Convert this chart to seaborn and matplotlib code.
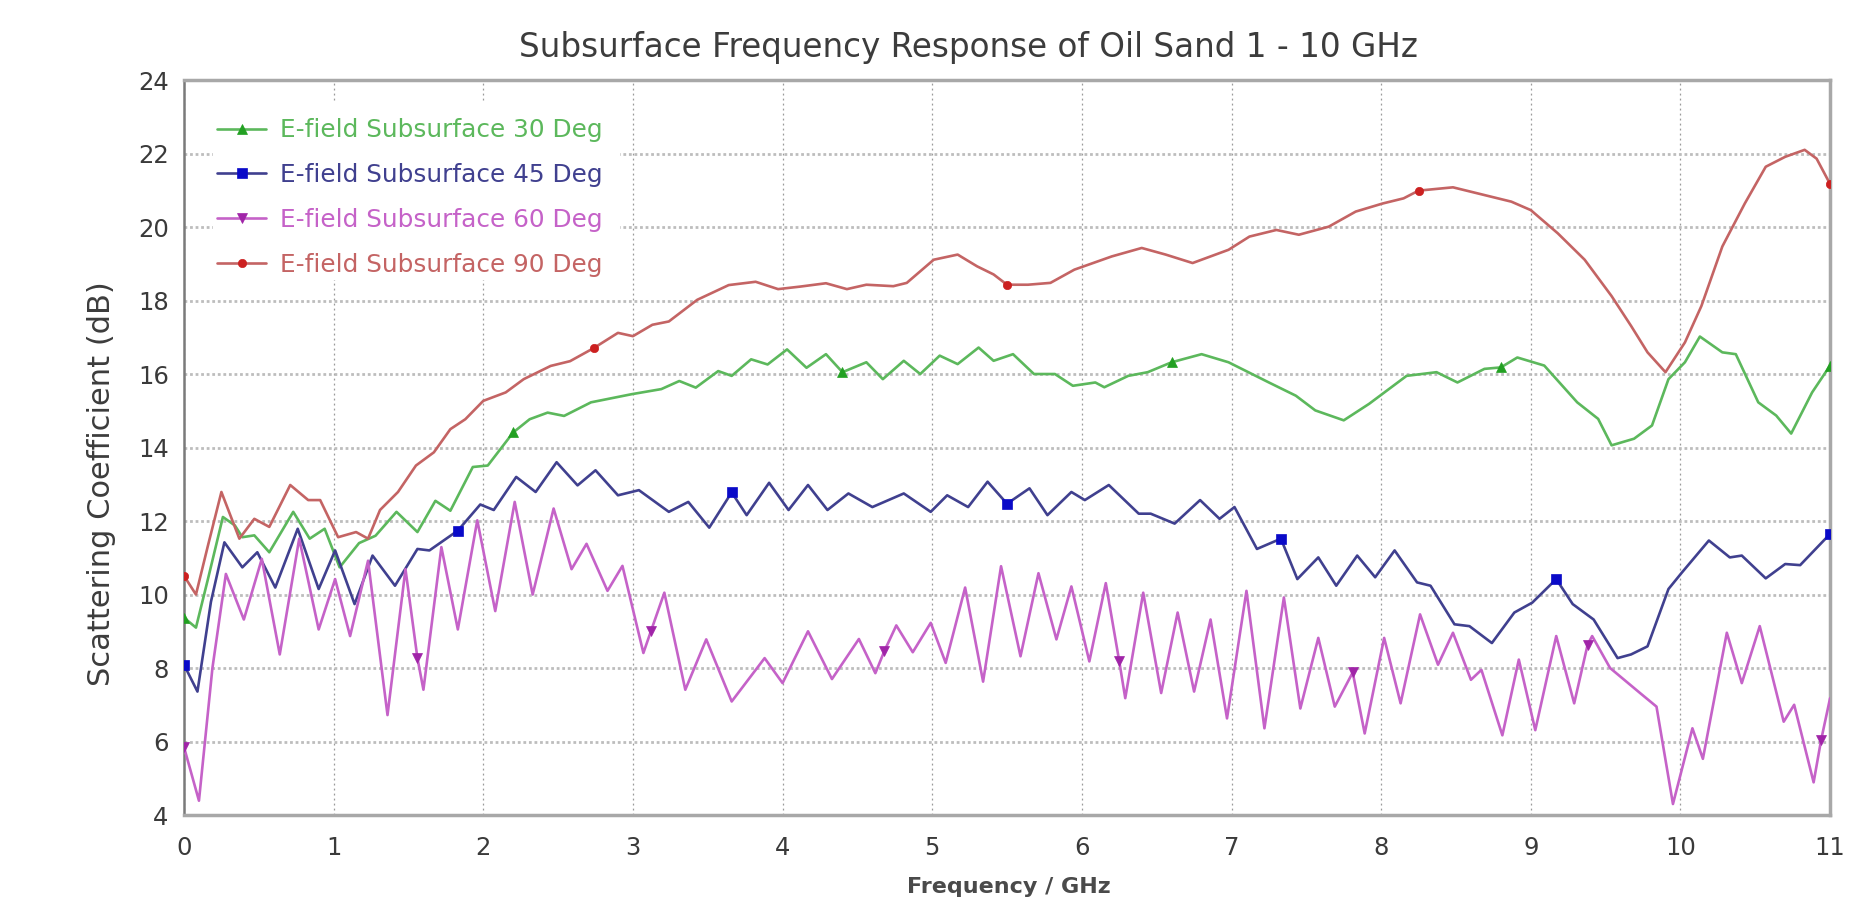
import numpy as np
import matplotlib
matplotlib.use("Agg")
import matplotlib.pyplot as plt
from matplotlib.patches import Rectangle
import seaborn as sns

# ---------------- data ----------------
freq_30 = [0, 0.08, 0.16, 0.26, 0.34, 0.39, 0.47, 0.57, 0.73, 0.84,
           0.94, 1.04, 1.17, 1.28, 1.42, 1.56, 1.68, 1.78, 1.93, 2.03,
           2.20, 2.31, 2.43, 2.54, 2.72, 2.99, 3.19, 3.31, 3.42, 3.57,
           3.66, 3.79, 3.90, 4.03, 4.16, 4.29, 4.40, 4.56, 4.67, 4.81,
           4.92, 5.05, 5.17, 5.31, 5.41, 5.54, 5.68, 5.82, 5.94, 6.09,
           6.15, 6.31, 6.44, 6.60, 6.80, 6.98, 7.25, 7.43, 7.56, 7.75,
           7.92, 8.17, 8.37, 8.51, 8.69, 8.80, 8.91, 9.09, 9.31, 9.45,
           9.54, 9.69, 9.81, 9.92, 10.03, 10.13, 10.28, 10.37, 10.52, 10.64,
           10.74, 10.88, 11.00]
scat_30 = [9.37, 9.10, 10.42, 12.11, 11.88, 11.56, 11.61, 11.15, 12.25, 11.52,
           11.79, 10.74, 11.40, 11.60, 12.25, 11.70, 12.55, 12.28, 13.47, 13.51,
           14.41, 14.77, 14.95, 14.86, 15.23, 15.45, 15.59, 15.81, 15.63, 16.08,
           15.95, 16.40, 16.26, 16.67, 16.17, 16.54, 16.05, 16.32, 15.86, 16.36,
           16.00, 16.50, 16.27, 16.72, 16.36, 16.54, 16.00, 16.00, 15.68, 15.77,
           15.64, 15.95, 16.05, 16.32, 16.54, 16.32, 15.77, 15.41, 15.01, 14.74,
           15.19, 15.95, 16.05, 15.77, 16.14, 16.18, 16.45, 16.23, 15.23, 14.78,
           14.06, 14.24, 14.60, 15.86, 16.32, 17.02, 16.59, 16.54, 15.23, 14.87,
           14.38, 15.50, 16.23]
marks_30 = [0, 2.20, 4.40, 6.60, 8.80, 11.00]

freq_45 = [0, 0.09, 0.18, 0.27, 0.39, 0.49, 0.61, 0.76, 0.90, 1.01,
           1.14, 1.26, 1.41, 1.56, 1.64, 1.83, 1.98, 2.07, 2.22, 2.35,
           2.49, 2.63, 2.75, 2.90, 3.04, 3.24, 3.37, 3.51, 3.66, 3.76,
           3.91, 4.04, 4.17, 4.30, 4.44, 4.60, 4.81, 4.99, 5.10, 5.24,
           5.37, 5.50, 5.65, 5.77, 5.93, 6.02, 6.18, 6.38, 6.46, 6.62,
           6.79, 6.92, 7.02, 7.17, 7.33, 7.44, 7.58, 7.70, 7.84, 7.96,
           8.09, 8.24, 8.33, 8.49, 8.59, 8.74, 8.89, 9.01, 9.17, 9.28,
           9.42, 9.58, 9.67, 9.78, 9.92, 10.01, 10.19, 10.33, 10.41, 10.57,
           10.70, 10.80, 11.00]
scat_45 = [8.09, 7.36, 9.80, 11.42, 10.74, 11.15, 10.19, 11.79, 10.15, 11.20,
           9.74, 11.06, 10.24, 11.24, 11.20, 11.74, 12.45, 12.30, 13.20, 12.79,
           13.60, 12.97, 13.38, 12.70, 12.84, 12.25, 12.52, 11.82, 12.78, 12.16,
           13.04, 12.30, 12.98, 12.30, 12.75, 12.38, 12.75, 12.25, 12.70, 12.38,
           13.07, 12.47, 12.89, 12.16, 12.79, 12.57, 12.98, 12.20, 12.20, 11.93,
           12.57, 12.06, 12.38, 11.24, 11.52, 10.42, 11.01, 10.24, 11.06, 10.47,
           11.20, 10.33, 10.24, 9.19, 9.14, 8.68, 9.51, 9.78, 10.42, 9.74,
           9.32, 8.27, 8.37, 8.59, 10.15, 10.60, 11.47, 11.01, 11.06, 10.44,
           10.83, 10.80, 11.65]
marks_45 = [0, 1.83, 3.66, 5.50, 7.33, 9.17, 11.00]

freq_60 = [0, 0.10, 0.19, 0.28, 0.40, 0.52, 0.64, 0.77, 0.90, 1.01,
           1.11, 1.23, 1.36, 1.48, 1.56, 1.60, 1.72, 1.83, 1.96, 2.08,
           2.21, 2.33, 2.47, 2.59, 2.69, 2.83, 2.93, 3.07, 3.12, 3.21,
           3.35, 3.49, 3.66, 3.88, 4.00, 4.17, 4.33, 4.51, 4.62, 4.68,
           4.76, 4.87, 4.99, 5.09, 5.22, 5.34, 5.46, 5.59, 5.71, 5.83,
           5.93, 6.05, 6.16, 6.25, 6.29, 6.41, 6.53, 6.64, 6.75, 6.86,
           6.97, 7.10, 7.22, 7.35, 7.46, 7.58, 7.69, 7.81, 7.89, 8.02,
           8.13, 8.26, 8.38, 8.48, 8.60, 8.67, 8.81, 8.92, 9.03, 9.17,
           9.29, 9.38, 9.41, 9.53, 9.73, 9.84, 9.95, 10.08, 10.15, 10.31,
           10.41, 10.53, 10.69, 10.76, 10.89, 10.94, 11.00]
scat_60 = [5.85, 4.39, 8.00, 10.56, 9.32, 10.97, 8.37, 11.52, 9.05, 10.42,
           8.87, 10.92, 6.72, 10.69, 8.27, 7.41, 11.29, 9.05, 12.02, 9.55,
           12.52, 10.00, 12.34, 10.69, 11.38, 10.10, 10.78, 8.41, 9.00, 10.05,
           7.41, 8.78, 7.09, 8.27, 7.59, 9.00, 7.70, 8.79, 7.86, 8.46,
           9.16, 8.43, 9.23, 8.14, 10.19, 7.63, 10.77, 8.32, 10.58, 8.78,
           10.22, 8.18, 10.31, 8.18, 7.18, 10.05, 7.32, 9.51, 7.36, 9.32,
           6.63, 10.10, 6.36, 9.92, 6.90, 8.82, 6.95, 7.88, 6.22, 8.82,
           7.04, 9.46, 8.09, 8.96, 7.68, 7.95, 6.17, 8.23, 6.31, 8.87,
           7.04, 8.64, 8.87, 8.00, 7.32, 6.95, 4.30, 6.36, 5.53, 8.96,
           7.59, 9.14, 6.54, 7.00, 4.89, 6.04, 7.18]
marks_60 = [0, 1.56, 3.12, 4.68, 6.25, 7.81, 9.38, 10.94]

freq_90 = [0, 0.08, 0.16, 0.25, 0.37, 0.47, 0.57, 0.71, 0.83, 0.91,
           1.03, 1.15, 1.23, 1.31, 1.43, 1.55, 1.67, 1.78, 1.88, 2.00,
           2.15, 2.27, 2.45, 2.58, 2.74, 2.90, 3.00, 3.13, 3.24, 3.43,
           3.64, 3.82, 3.97, 4.12, 4.29, 4.43, 4.56, 4.74, 4.83, 5.01,
           5.17, 5.30, 5.41, 5.50, 5.64, 5.79, 5.95, 6.20, 6.40, 6.56,
           6.74, 6.98, 7.12, 7.30, 7.45, 7.65, 7.83, 8.01, 8.15, 8.25,
           8.48, 8.69, 8.87, 9.00, 9.18, 9.36, 9.54, 9.67, 9.78, 9.90,
           10.03, 10.14, 10.28, 10.43, 10.57, 10.70, 10.83, 10.91, 11.00]
scat_90 = [10.51, 10.00, 11.33, 12.79, 11.52, 12.06, 11.84, 12.98, 12.57, 12.57,
           11.56, 11.70, 11.52, 12.30, 12.79, 13.51, 13.87, 14.50, 14.77, 15.27,
           15.50, 15.86, 16.22, 16.35, 16.71, 17.12, 17.03, 17.34, 17.43, 18.02,
           18.42, 18.51, 18.31, 18.38, 18.47, 18.31, 18.43, 18.39, 18.48, 19.11,
           19.25, 18.93, 18.71, 18.43, 18.43, 18.48, 18.84, 19.20, 19.43, 19.25,
           19.02, 19.38, 19.74, 19.92, 19.79, 20.01, 20.42, 20.64, 20.78, 20.99,
           21.08, 20.87, 20.69, 20.46, 19.83, 19.11, 18.12, 17.31, 16.59, 16.05,
           16.86, 17.85, 19.47, 20.64, 21.64, 21.91, 22.10, 21.86, 21.17]
marks_90 = [0, 2.74, 5.50, 8.25, 11.00]

series_labels = ["E-field Subsurface 30 Deg", "E-field Subsurface 45 Deg",
                 "E-field Subsurface 60 Deg", "E-field Subsurface 90 Deg"]
x_ticks = list(range(0, 12))
y_ticks = list(range(4, 25, 2))
title_text = "Subsurface Frequency Response of Oil Sand 1 - 10 GHz"
x_label = "Frequency / GHz"
y_label = "Scattering Coefficient (dB)"

# ---------------- style ----------------
sns.set_style("white")
plt.rcParams['font.family'] = ['DejaVu Sans']

fig = plt.figure(figsize=(18.51, 9.01), dpi=100)
ax = fig.add_axes([0.0994, 0.0954, 0.8893, 0.8158])

styles = [
    (freq_30, scat_30, marks_30, "#5cb85c", "^", "#22a022", 7),
    (freq_45, scat_45, marks_45, "#40408f", "s", "#0a0ac8", 6.5),
    (freq_60, scat_60, marks_60, "#c562c8", "v", "#a024a8", 7),
    (freq_90, scat_90, marks_90, "#c46464", "o", "#cc2020", 6),
]

for (xs, ys, marks, lc, mk, mc, ms), lab in zip(styles, series_labels):
    xa = np.asarray(xs)
    idx = [int(np.argmin(np.abs(xa - m))) for m in marks]
    sns.lineplot(x=xs, y=ys, ax=ax, color=lc, linewidth=1.9, marker=mk,
                 markevery=idx, markersize=ms, markerfacecolor=mc,
                 markeredgecolor=mc, markeredgewidth=0.5, label=lab,
                 estimator=None, errorbar=None, sort=False,
                 solid_joinstyle="round", zorder=3)

ax.set_xlim(0, 11)
ax.set_ylim(4, 24)
ax.set_xticks(x_ticks)
ax.set_yticks(y_ticks)
ax.set_xlabel("")
ax.set_ylabel("")

ax.xaxis.grid(True, color="#9a9a9a", linewidth=0.9, linestyle=(0, (1.5, 2.5)))
ax.yaxis.grid(True, color="#bdbdbd", linewidth=2.0, linestyle=(0, (1, 1)))
ax.set_axisbelow(True)

# white background behind the legend (grid is hidden there in the reference)
ax.add_patch(Rectangle((0.0176, 0.728), 0.247, 0.241, transform=ax.transAxes,
                       facecolor="white", edgecolor="none", zorder=1))

for side in ["left", "bottom", "top", "right"]:
    ax.spines[side].set_visible(True)
    ax.spines[side].set_color("#a8a8a8")
    ax.spines[side].set_linewidth(2.5)
ax.spines["left"].set_color("#7a7a7a")
ax.spines["left"].set_linewidth(1.8)

ax.tick_params(axis="both", direction="out", length=5, width=1.0,
               color="#8a8a8a", labelcolor="#3a3a3a")
ax.tick_params(axis="y", labelsize=17.5, pad=6)
ax.tick_params(axis="x", labelsize=17.5, pad=10)

leg = ax.legend(loc="upper left", bbox_to_anchor=(0.020, 0.9480), frameon=False,
                fontsize=17.8, labelcolor="linecolor", handlelength=2.0,
                labelspacing=0.84, handletextpad=0.55, borderpad=0,
                borderaxespad=0, numpoints=1)

fig.text(0.523, 0.937, title_text, ha="center", va="baseline",
         fontsize=23.5, color="#3c3c3c")
fig.text(0.055, 0.463, y_label, ha="center", va="center", rotation=90,
         fontsize=22, color="#3c3c3c")
fig.text(0.545, 0.0085, x_label, ha="center", va="baseline",
         fontsize=16, fontweight="bold", color="#4a4a4a")

fig.savefig("out.png", dpi=100)
